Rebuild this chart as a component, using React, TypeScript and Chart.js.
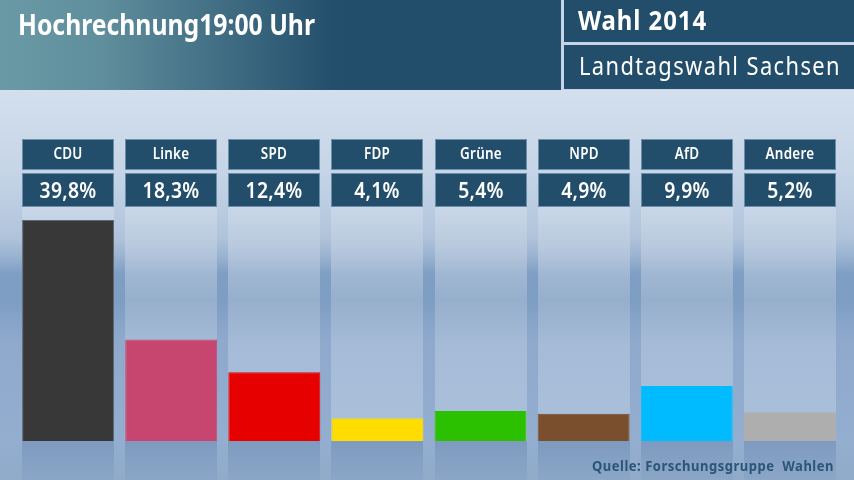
import { useEffect, useRef } from "react";
import { Chart, registerables } from "chart.js";

Chart.register(...registerables);

const parties = ["CDU", "Linke", "SPD", "FDP", "Grüne", "NPD", "AfD", "Andere"];
const shares = [39.8, 18.3, 12.4, 4.1, 5.4, 4.9, 9.9, 5.2];
const partyColors = ["#383838", "#c7466f", "#e60000", "#ffdd00", "#2bc000", "#7a4f2e", "#00bbff", "#aeaeae"];
const partyBorders = ["#5f6873", "#c7466f", "#e60000", "#ffdd00", "#2bc000", "#7a4f2e", "#00bbff", "#aeaeae"];

const title = "Hochrechnung19:00 Uhr";
const electionYear = "Wahl 2014";
const electionName = "Landtagswahl Sachsen";
const source = "Quelle: Forschungsgruppe  Wahlen";

const FONT = '"Noto Sans", Lato, sans-serif';
const NAVY = "#224d6b";

function stops(ctx: CanvasRenderingContext2D, y0: number, y1: number, list: [number, string][]) {
  const g = ctx.createLinearGradient(0, y0, 0, y1);
  list.forEach(([y, c]) => g.addColorStop((y - y0) / (y1 - y0), c));
  return g;
}

// maxWidth squeezes the text sideways, the original typeface is a condensed one
function label(ctx: CanvasRenderingContext2D, text: string, x: number, y: number, font: string, color: string, align: CanvasTextAlign, spacing: string, maxWidth: number) {
  ctx.font = font;
  ctx.fillStyle = color;
  ctx.textAlign = align;
  ctx.textBaseline = "alphabetic";
  (ctx as any).letterSpacing = spacing;
  ctx.fillText(text, x, y, maxWidth);
  (ctx as any).letterSpacing = "0px";
}

function squeezed(ctx: CanvasRenderingContext2D, text: string, font: string, spacing: string, factor: number) {
  ctx.font = font;
  (ctx as any).letterSpacing = spacing;
  const w = ctx.measureText(text).width * factor;
  (ctx as any).letterSpacing = "0px";
  return w;
}

const backdrop = {
  id: "backdrop",
  beforeDraw(chart: any) {
    const { ctx, width, height } = chart;
    const bars = chart.getDatasetMeta(0).data;
    const base = chart.scales.y.getPixelForValue(0);

    ctx.save();
    ctx.fillStyle = stops(ctx, 90, 480, [
      [90, "#d3dfed"], [170, "#c6d5e7"], [215, "#b8cae0"], [238, "#afc3da"], [255, "#9bb4d1"], [274, "#7f9ec4"],
      [300, "#7e9dc3"], [340, "#8fa9cd"], [440, "#94aed0"], [480, "#90aac9"],
    ]);
    ctx.fillRect(0, 90, width, height - 90);

    bars.forEach((bar: any) => {
      const left = Math.round(bar.x - bar.width / 2);
      const w = Math.round(bar.width);
      ctx.fillStyle = stops(ctx, 207, base, [
        [207, "#c9d7e8"], [245, "#b9cade"], [275, "#a0b7d2"], [300, "#96afcc"], [345, "#a5bbd7"], [441, "#abc0da"],
      ]);
      ctx.fillRect(left, 207, w, base - 207);
      ctx.fillStyle = stops(ctx, base, 480, [[441, "#7e9abf"], [480, "#8ba6c6"]]);
      ctx.fillRect(left, base, w, 480 - base);
    });

    // header bands
    const head = ctx.createLinearGradient(0, 0, 340, 0);
    head.addColorStop(0, "#6a9aa6");
    head.addColorStop(0.3, "#5f8e9c");
    head.addColorStop(1, NAVY);
    ctx.fillStyle = head;
    ctx.fillRect(0, 0, 561, 90);
    ctx.fillStyle = "#c5d4e6";
    ctx.fillRect(561, 0, 293, 90);
    ctx.fillStyle = NAVY;
    ctx.fillRect(564, 0, 290, 42);
    ctx.fillRect(564, 45, 290, 44);
    ctx.restore();
  },
  afterDraw(chart: any) {
    const { ctx } = chart;
    const bars = chart.getDatasetMeta(0).data;

    ctx.save();
    label(ctx, title, 18, 35, `bold 28px ${FONT}`, "#ffffff", "left", "0px", 297);
    label(ctx, electionYear, 578, 30, `bold 26px ${FONT}`, "#ffffff", "left", "1px", 129);
    label(ctx, electionName, 579, 75, `25px ${FONT}`, "#ffffff", "left", "1.6px", 262);

    bars.forEach((bar: any, i: number) => {
      const left = Math.round(bar.x - bar.width / 2);
      const w = Math.round(bar.width);
      [[139, 31], [173, 34]].forEach(([top, h]) => {
        ctx.fillStyle = NAVY;
        ctx.fillRect(left, top, w, h);
        ctx.strokeStyle = "#6b8eaa";
        ctx.lineWidth = 1;
        ctx.strokeRect(left + 0.5, top + 0.5, w - 1, h - 1);
      });
      const nameFont = `600 16px ${FONT}`;
      const name = chart.data.labels[i];
      label(ctx, name, left + w / 2, 159, nameFont, "#ffffff", "center", "0.3px", squeezed(ctx, name, nameFont, "0.3px", 0.84));
      const valueFont = `600 22px ${FONT}`;
      const text = chart.data.datasets[0].data[i].toFixed(1).replace(".", ",") + "%";
      label(ctx, text, left + w / 2, 198, valueFont, "#ffffff", "center", "0.3px", squeezed(ctx, text, valueFont, "0.3px", 0.88));
    });

    label(ctx, source, 834, 471, `bold 15px ${FONT}`, "#2a5676", "right", "0.6px", 242);
    ctx.restore();
  },
};

export default function App() {
  const canvasRef = useRef<HTMLCanvasElement | null>(null);

  useEffect(() => {
    const canvas = canvasRef.current;
    if (!canvas) return;
    document.body.style.margin = "0";

    const chart = new Chart(canvas, {
      type: "bar",
      data: {
        labels: parties,
        datasets: [
          {
            data: shares,
            backgroundColor: partyColors,
            borderColor: partyBorders,
            borderWidth: 1,
            barPercentage: 0.892,
            categoryPercentage: 1,
          },
        ],
      },
      options: {
        responsive: false,
        animation: false,
        devicePixelRatio: 1,
        layout: { padding: { left: 16.5, right: 12.5, top: 219, bottom: 39 } },
        plugins: { legend: { display: false }, tooltip: { enabled: false } },
        scales: {
          x: { display: false },
          y: { display: false, min: 0, max: 40 },
        },
      },
      plugins: [backdrop],
    });

    return () => {
      chart.destroy();
    };
  }, []);

  return <canvas ref={canvasRef} width={854} height={480} style={{ display: "block" }} />;
}
